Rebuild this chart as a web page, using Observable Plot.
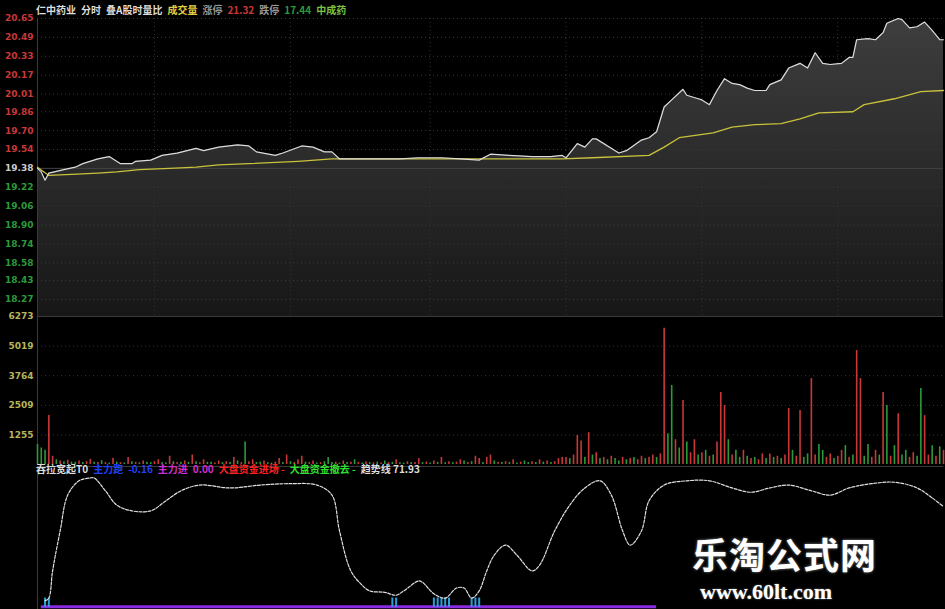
<!DOCTYPE html>
<html><head><meta charset="utf-8">
<script src="https://cdn.jsdelivr.net/npm/d3@7"></script>
<script src="https://cdn.jsdelivr.net/npm/@observablehq/plot@0.6"></script>
<style>
body{margin:0;background:#000;}
#wrap{position:relative;width:945px;height:609px;background:#000;overflow:hidden;font-family:"Noto Sans CJK SC","DejaVu Sans",sans-serif;}
.panel{position:absolute;left:0;}
.hdr{position:absolute;font-size:10px;font-weight:bold;white-space:nowrap;line-height:12px;}
.hdr span{margin-right:5px;}
.wm1{position:absolute;left:692px;top:535px;font-size:36px;line-height:36px;font-weight:bold;color:#fff;letter-spacing:1px;font-family:"Noto Sans CJK SC",sans-serif;text-shadow:0 0 3px #888;}
.wm2{position:absolute;left:700px;top:581px;font-size:22px;line-height:22px;font-weight:bold;color:#fff;font-family:"Liberation Serif",serif;text-shadow:0 0 2px #888;}
</style></head><body><div id="wrap"></div>
<script>
// ---- data ----
const priceTime  = [0,1,2,3,7,10,12,16,19,22,25,26,30,33,37,42,44,48,53,56,58,63,65,70,73,76,78,80,86,91,96,101,107,112,117,120,125,131,136,139,140,143,145,147,148,154,156,160,162,164,166,168,171,172,175,176,178,180,182,184,186,188,190,193,194,197,199,202,204,206,208,210,213,215,216,217,220,222,224,225,228,229,231,233,235,237,239,240];
const priceValue = [19.38,19.35,19.28,19.34,19.37,19.39,19.42,19.46,19.48,19.42,19.42,19.44,19.45,19.49,19.51,19.55,19.53,19.56,19.58,19.57,19.52,19.49,19.51,19.57,19.56,19.52,19.52,19.46,19.46,19.46,19.46,19.47,19.47,19.46,19.45,19.50,19.49,19.48,19.48,19.49,19.47,19.59,19.56,19.63,19.63,19.51,19.53,19.62,19.64,19.69,19.90,19.96,20.05,20.00,19.97,19.96,19.92,20.04,20.14,20.10,20.09,20.06,20.04,20.04,20.09,20.13,20.23,20.27,20.23,20.36,20.27,20.26,20.27,20.32,20.32,20.47,20.48,20.47,20.53,20.61,20.65,20.64,20.57,20.58,20.62,20.55,20.47,20.47];
const avgTime  = [0,3,9,16,21,27,35,42,48,56,69,78,96,117,139,147,162,166,170,179,184,190,197,202,207,216,219,227,234,240];
const avgValue = [19.39,19.32,19.33,19.34,19.35,19.37,19.38,19.39,19.41,19.42,19.44,19.46,19.46,19.46,19.46,19.47,19.49,19.56,19.64,19.68,19.73,19.75,19.76,19.80,19.85,19.86,19.92,19.97,20.03,20.04];
const prevClose = 19.38;
const upTicks   = [20.65,20.49,20.33,20.17,20.01,19.86,19.70,19.54];
const downTicks = [19.22,19.06,18.90,18.74,18.58,18.43,18.27];
const gridMinutes = [31,67,104,140,176,212];

const volume = [
 850,700,600,2080,350,200,150,120,180,100,
 90,150,80,120,220,100,80,160,90,60,
 260,100,80,60,300,120,90,70,150,100,
 80,120,200,90,60,350,120,80,100,150,
 90,400,120,70,200,90,100,60,150,80,
 120,90,300,150,80,950,120,200,90,100,
 150,80,60,100,250,90,400,120,80,200,
 350,100,90,150,60,80,120,300,90,100,
 60,150,80,100,200,90,60,120,80,70,
 100,60,150,80,90,200,70,60,120,80,
 90,250,80,100,60,150,90,300,70,120,
 80,100,200,150,90,120,350,250,80,300,
 400,150,100,80,120,90,200,60,100,150,
 80,120,90,200,100,150,80,120,250,300,
 300,250,400,1230,1000,300,1350,400,500,250,
 300,200,350,250,150,300,200,250,300,200,
 350,250,300,400,300,450,5770,1300,3350,1050,
 700,2710,950,500,1050,400,500,600,350,400,
 950,3050,2500,1050,400,600,300,600,350,250,
 300,200,450,250,450,300,350,250,400,2370,
 600,350,2290,300,450,3640,400,850,600,300,
 450,250,350,600,800,300,400,4830,3640,350,
 850,300,600,400,3050,2500,350,800,2150,400,
 600,300,500,350,3220,2070,400,800,350,750,
 600];
const volumeDir =
 "gggrrgrgrg"+"grgrrgrgrg"+"rgrgrgrgrg"+"grrggrgrgr"+"grgrrggrrg"+
 "rgrgrgrrgg"+"rggrrgrgrr"+"rgrrgrgggr"+"grgrgrgrgr"+"grgrgrggrg"+
 "rrgrgrgrgr"+"grrgrgrrgr"+"rgrgrgrgrg"+"grgrgrgrrr"+"rgrrrgrgrg"+
 "rgrggrgrgr"+"rgrrgrrggr"+"grgrrgrgrg"+"rrrgrggrgr"+"grrgrgrgrr"+
 "grrggrrggr"+"rgrrgrgrrg"+"grrgrgrgrg"+"grrggrrgrg"+"r";
const volTicks = [6273,5019,3764,2509,1255];

const trendTime  = [2,3,4,6,8,11,14,15,18,21,25,30,34,38,43,51,59,67,74,78,80,83,86,88,92,95,97,101,102,105,108,111,113,115,117,119,121,124,127,131,133,137,141,145,149,152,155,157,160,162,166,172,178,184,189,194,199,205,210,215,221,227,233,237,240];
const trendValue = [6,8,27,55,80,90,92,92,83,73,69,69,76,83,87,85,87,88,87,80,55,27,17,13,12,10,13,20,19,11,8,15,15,8,13,27,38,45,38,27,31,55,73,85,90,80,55,45,55,76,87,90,90,85,82,85,87,83,80,85,88,89,85,78,72];
const signalTime = [2,3,94,95,105,106,107,108,109,115,116,117];
const baseLineStart = [1], baseLineEnd = [164];

// ---- build ----
const wrap = document.getElementById("wrap");
const X = {domain:[0,240], axis:null};
const common = {width:945, marginLeft:37, marginRight:2, style:{background:"transparent", overflow:"visible"}};
const RED="#c83838", GREEN="#2c9a3a";

const price = priceTime.map((t,i)=>({t, p:priceValue[i]}));
const avg = avgTime.map((t,i)=>({t, p:avgValue[i]}));
const yMin = 18.125;

const p1 = Plot.plot({...common, height:316, marginTop:18, marginBottom:0,
  x:X, y:{domain:[yMin,20.65], axis:null},
  marks:[
    Plot.areaY(price, {x:"t", y1:yMin, y2:"p", fill:"url(#pgrad)"}),
    Plot.ruleY(upTicks.concat(downTicks), {stroke:"#3a3a3a", strokeDasharray:"1,3"}),
    Plot.ruleX(gridMinutes, {stroke:"#333", strokeDasharray:"1,3"}),
    Plot.ruleY([prevClose], {stroke:"#444"}),
    Plot.ruleX([0], {stroke:"#3a3a3a"}),
    Plot.line(avg, {x:"t", y:"p", stroke:"#c9c23c", strokeWidth:1.3}),
    Plot.line(price, {x:"t", y:"p", stroke:"#dcdcdc", strokeWidth:1.2}),
    Plot.axisY(upTicks, {tickSize:0, tickPadding:4, fill:RED, fontSize:9, fontWeight:"bold", fontFamily:"DejaVu Sans", tickFormat:d=>d.toFixed(2), label:null}),
    Plot.axisY([prevClose], {tickSize:0, tickPadding:4, fill:"#ccc", fontSize:9, fontWeight:"bold", fontFamily:"DejaVu Sans", tickFormat:d=>d.toFixed(2), label:null}),
    Plot.axisY(downTicks, {tickSize:0, tickPadding:4, fill:GREEN, fontSize:9, fontWeight:"bold", fontFamily:"DejaVu Sans", tickFormat:d=>d.toFixed(2), label:null})
  ]});
const defs = d3.select(p1).insert("defs", ":first-child");
const g = defs.append("linearGradient").attr("id","pgrad").attr("gradientUnits","userSpaceOnUse")
  .attr("x1",0).attr("x2",0).attr("y1",18).attr("y2",316);
g.append("stop").attr("offset","0").attr("stop-color","#3e3e3e");
g.append("stop").attr("offset","1").attr("stop-color","#171717");
p1.classList.add("panel"); p1.style.top="0px";
wrap.appendChild(p1);

const vol = volume.map((v,i)=>({t:i, v, c: volumeDir[i]==="r" ? RED : GREEN}));
const p2 = Plot.plot({...common, height:150, marginTop:0, marginBottom:2,
  x:X, y:{domain:[0,6273], axis:null}, color:{type:"identity"},
  marks:[
    Plot.ruleY(volTicks.slice(1), {stroke:"#333", strokeDasharray:"1,3"}),
    Plot.ruleY([6273], {stroke:"#3a3a3a"}),
    Plot.ruleX([0], {stroke:"#3a3a3a"}),
    Plot.ruleX(vol, {x:"t", y1:0, y2:"v", stroke:"c", strokeWidth:1.6}),
    Plot.axisY(volTicks, {tickSize:0, tickPadding:4, fill:"#b8b45a", fontSize:9, fontWeight:"bold", fontFamily:"DejaVu Sans", tickFormat:d=>String(d), label:null})
  ]});
p2.classList.add("panel"); p2.style.top="316px";
wrap.appendChild(p2);

const trend = trendTime.map((t,i)=>({t, v:trendValue[i]}));
const p3 = Plot.plot({...common, height:143, marginTop:0, marginBottom:0,
  x:X, y:{domain:[0,100], axis:null},
  marks:[
    Plot.ruleY([100], {stroke:"#3a3a3a"}),
    Plot.ruleX([0], {stroke:"#3a3a3a"}),
    Plot.ruleY([2], {x1:baseLineStart[0], x2:baseLineEnd[0], stroke:"#8a2be2", strokeWidth:3}),
    Plot.ruleX(signalTime, {y1:1.5, y2:8, stroke:"#2aa0d8", strokeWidth:2}),
    Plot.line(trend, {x:"t", y:"v", stroke:"#e0e0e0", strokeWidth:1.2, strokeDasharray:"3,1.5", curve:"catmull-rom"})
  ]});
p3.classList.add("panel"); p3.style.top="466px";
wrap.appendChild(p3);

// headers
const h1 = document.createElement("div");
h1.className="hdr"; h1.style.left="36px"; h1.style.top="4px";
h1.innerHTML = '<span style="color:#ddd">仁中药业</span><span style="color:#ddd">分时</span><span style="color:#ddd">叠A股时量比</span>'+
 '<span style="color:#e0d040">成交量</span><span style="color:#999">涨停</span><span style="color:'+RED+'">21.32</span>'+
 '<span style="color:#999">跌停</span><span style="color:'+GREEN+'">17.44</span><span style="color:#7fc040">中成药</span>';
wrap.appendChild(h1);

const h2 = document.createElement("div");
h2.className="hdr"; h2.style.left="36px"; h2.style.top="463px";
h2.innerHTML = '<span style="color:#ddd">吞拉宽起T0</span><span style="color:#2040ff">主力跑</span><span style="color:#2040ff">-0.16</span>'+
 '<span style="color:#d030d0">主力进</span><span style="color:#d030d0">0.00</span>'+
 '<span style="color:#ff2020">大盘资金进场 -</span><span style="color:#30e030">大盘资金撤去 -</span><span style="color:#ddd">趋势线 71.93</span>';
wrap.appendChild(h2);

const w1 = document.createElement("div"); w1.className="wm1"; w1.textContent="乐淘公式网"; wrap.appendChild(w1);
const w2 = document.createElement("div"); w2.className="wm2"; w2.textContent="www.60lt.com"; wrap.appendChild(w2);
</script></body></html>
